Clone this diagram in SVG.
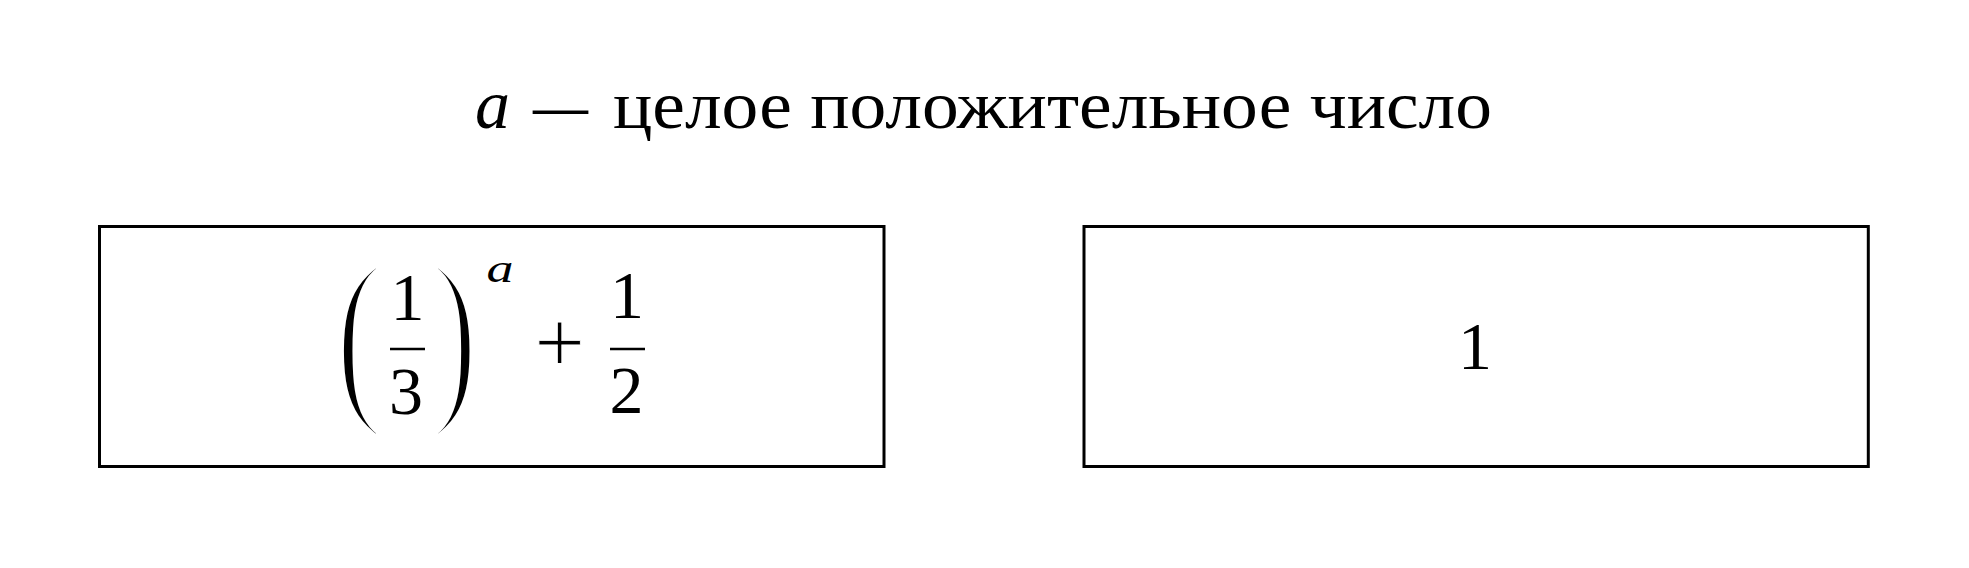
<svg xmlns="http://www.w3.org/2000/svg" width="1969" height="568" viewBox="0 0 1969 568">
<style>
.box{fill:#fff;stroke:#000;stroke-width:3}
.t{font-family:"Liberation Serif","Times New Roman",serif;fill:#000}
.it{font-style:italic}
.bar{stroke:#000;stroke-width:2.6}
.paren{font-family:"Liberation Serif","Times New Roman",serif;font-size:100px;fill:#000;stroke:#fff;stroke-width:3.5}
</style>
<rect width="1969" height="568" fill="#fff"/>
<g id="title">
<text class="t it" x="475" y="128" font-size="70">a</text>
<text class="t" x="533" y="128" font-size="67" textLength="55" lengthAdjust="spacingAndGlyphs">—</text>
<text class="t" x="613" y="128" font-size="67" textLength="879" lengthAdjust="spacingAndGlyphs">целое положительное число</text>
</g>
<g id="connectors"></g>
<g id="node-left">
<rect class="box" x="99.5" y="226.5" width="784.5" height="240"/>
<text class="paren" transform="translate(335,398) scale(1.45,1.95)">(</text>
<text class="paren" transform="translate(431,398) scale(1.42,1.95)">)</text>
<text class="t" x="407.5" y="320" font-size="68" text-anchor="middle">1</text>
<line class="bar" x1="390" y1="349" x2="425" y2="349"/>
<text class="t" x="406" y="414" font-size="68" text-anchor="middle">3</text>
<text class="t it" font-size="40" text-anchor="middle" transform="translate(500,282) scale(1.35,1)">a</text>
<text class="t" x="559.5" y="371.5" font-size="89" text-anchor="middle" stroke="#fff" stroke-width="0.8">+</text>
<text class="t" x="627" y="318" font-size="68" text-anchor="middle">1</text>
<line class="bar" x1="610" y1="349" x2="645" y2="349"/>
<text class="t" x="626.5" y="413" font-size="68" text-anchor="middle">2</text>
</g>
<g id="node-right">
<rect class="box" x="1084" y="226.5" width="784.3" height="240"/>
<text class="t" x="1475" y="369" font-size="68" text-anchor="middle">1</text>
</g>
</svg>
